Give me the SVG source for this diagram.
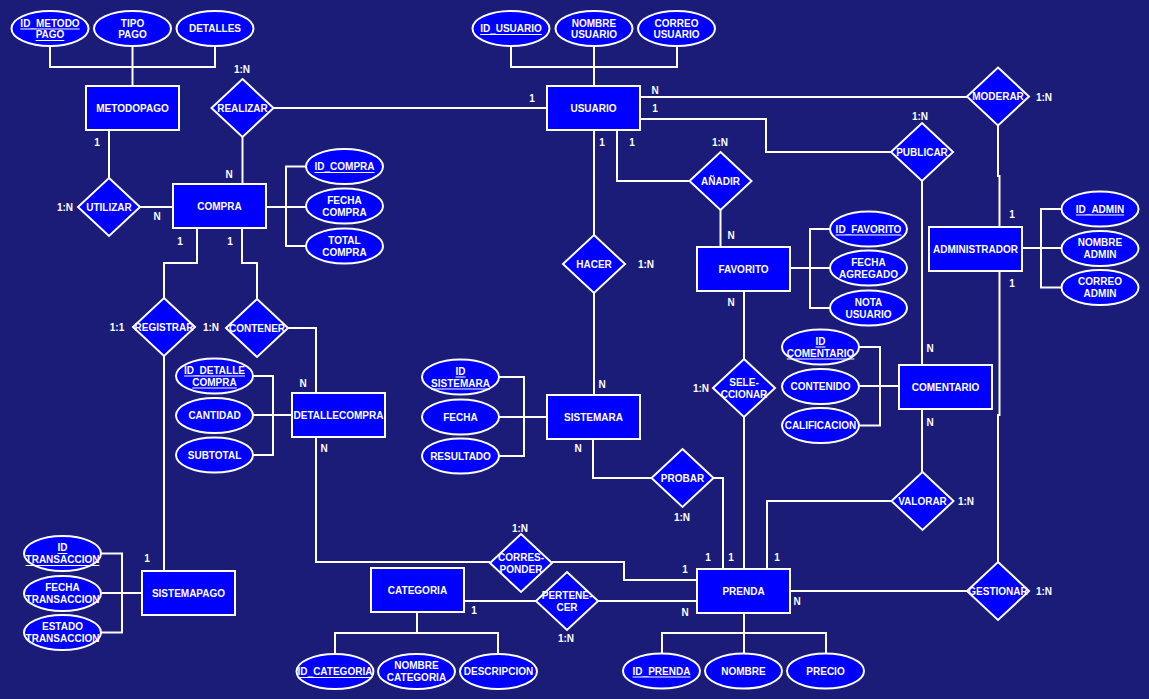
<svg xmlns="http://www.w3.org/2000/svg" width="1149" height="699" viewBox="0 0 1149 699">
<style>
  .bg{fill:#1b1b78}
  .ent{fill:#0000ff;stroke:#ffffff;stroke-width:2}
  .att{fill:#0000ff;stroke:#ffffff;stroke-width:2}
  .rel{fill:#0000ff;stroke:#ffffff;stroke-width:2}
  .con{fill:none;stroke:#ffffff;stroke-width:2}
  text{font-family:"Liberation Sans",Arial,sans-serif;font-weight:bold;font-size:10px;fill:#ffffff;text-anchor:middle;dominant-baseline:central}
  .key{text-decoration:underline}
</style>
<defs>
  <ellipse id="oval" rx="38.5" ry="17.5" class="att"/>
  <polygon id="rhomb" points="0,-29 31,0 0,29 -31,0" class="rel"/>
  <rect id="box" x="0" y="0" width="93" height="44" class="ent"/>
</defs>
<rect class="bg" x="0" y="0" width="1149" height="699"/>

<!-- connectors -->
<g id="connectors" class="con">
  <path d="M50 46V67H215V46M132.5 46V86"/>
  <path d="M109 130V178"/>
  <path d="M140 207H173"/>
  <path d="M242.5 137V184"/>
  <path d="M273 108H547"/>
  <path d="M266 207H306M306 166.5H286V246H306"/>
  <path d="M511 46V67H677V46M594 46V86"/>
  <path d="M640 97H967"/>
  <path d="M640 119H766V152H891"/>
  <path d="M594 130V235"/>
  <path d="M617 130V181H689"/>
  <path d="M720.5 210V247"/>
  <path d="M790 268H830M830 229H810V308H830"/>
  <path d="M744 291V359"/>
  <path d="M744 417V569"/>
  <path d="M594 293V395"/>
  <path d="M547 417H499M499 377H524V456H499"/>
  <path d="M593 439V478H652"/>
  <path d="M713 478H723V569"/>
  <path d="M998 126V176H999.5V227"/>
  <path d="M999.5 270V415H998V562"/>
  <path d="M1022 248H1062M1062 209H1041V287.5H1062"/>
  <path d="M922 181V365"/>
  <path d="M899 386H859M859 347H880V425.5H859"/>
  <path d="M922 408V472"/>
  <path d="M892 501H767V569"/>
  <path d="M967 591H790"/>
  <path d="M197 229V263H164V298"/>
  <path d="M242 229V263H257V299"/>
  <path d="M288 328H316V393"/>
  <path d="M292 415H253M253 376H273V455H253"/>
  <path d="M164 356V571"/>
  <path d="M142 593H101M101 553.5H122V632.5H101"/>
  <path d="M316 437V562H490"/>
  <path d="M552 562H624V580H697"/>
  <path d="M463 601H537"/>
  <path d="M598 601H697"/>
  <path d="M417 612V633M335 654V633H498V654"/>
  <path d="M744 612V653M662 653V633H826V653"/>
</g>

<!-- cardinalities -->
<g id="cardinalities">
  <text x="242" y="69">1:N</text>
  <text x="229" y="174">N</text>
  <text x="532" y="98">1</text>
  <text x="97" y="142">1</text>
  <text x="65" y="207">1:N</text>
  <text x="157" y="216">N</text>
  <text x="180" y="241">1</text>
  <text x="230" y="241">1</text>
  <text x="117" y="327">1:1</text>
  <text x="211" y="327">1:N</text>
  <text x="303" y="383">N</text>
  <text x="324" y="448">N</text>
  <text x="147" y="558">1</text>
  <text x="520" y="528">1:N</text>
  <text x="474" y="610">1</text>
  <text x="566" y="638">1:N</text>
  <text x="655" y="90">N</text>
  <text x="655" y="108">1</text>
  <text x="602" y="142">1</text>
  <text x="632" y="142">1</text>
  <text x="720" y="142">1:N</text>
  <text x="731" y="235">N</text>
  <text x="646" y="264">1:N</text>
  <text x="602" y="384">N</text>
  <text x="731" y="302">N</text>
  <text x="701" y="388">1:N</text>
  <text x="578" y="448">N</text>
  <text x="682" y="517">1:N</text>
  <text x="708" y="557">1</text>
  <text x="731" y="557">1</text>
  <text x="777" y="557">1</text>
  <text x="685" y="569">1</text>
  <text x="685" y="612">N</text>
  <text x="797" y="601">N</text>
  <text x="920" y="116">1:N</text>
  <text x="1044" y="97">1:N</text>
  <text x="1012" y="214">1</text>
  <text x="1012" y="283">1</text>
  <text x="930" y="348">N</text>
  <text x="930" y="422">N</text>
  <text x="966" y="501">1:N</text>
  <text x="1044" y="591">1:N</text>
</g>

<!-- entities -->
<g id="metodopago"><use href="#box" x="86" y="86"/><text x="132.5" y="108">METODOPAGO</text></g>
<g id="compra"><use href="#box" x="173" y="184"/><text x="219.5" y="206">COMPRA</text></g>
<g id="usuario"><use href="#box" x="547" y="86"/><text x="593.5" y="108">USUARIO</text></g>
<g id="favorito"><use href="#box" x="697" y="247"/><text x="743.5" y="269">FAVORITO</text></g>
<g id="administrador"><use href="#box" x="929" y="227"/><text x="975.5" y="249">ADMINISTRADOR</text></g>
<g id="comentario"><use href="#box" x="899" y="365"/><text x="945.5" y="387">COMENTARIO</text></g>
<g id="sistemara"><use href="#box" x="547" y="395"/><text x="593.5" y="417">SISTEMARA</text></g>
<g id="detallecompra"><use href="#box" x="292" y="393"/><text x="338.5" y="415">DETALLECOMPRA</text></g>
<g id="sistemapago"><use href="#box" x="142" y="571"/><text x="188.5" y="593">SISTEMAPAGO</text></g>
<g id="categoria"><use href="#box" x="371" y="568"/><text x="417.5" y="590">CATEGORIA</text></g>
<g id="prenda"><use href="#box" x="697" y="569"/><text x="743.5" y="591">PRENDA</text></g>

<!-- relationships -->
<g id="realizar"><use href="#rhomb" x="242.5" y="108"/><text x="242.5" y="108">REALIZAR</text></g>
<g id="utilizar"><use href="#rhomb" x="109" y="207"/><text x="109" y="207">UTILIZAR</text></g>
<g id="registrar"><use href="#rhomb" x="164" y="327"/><text x="164" y="327">REGISTRAR</text></g>
<g id="contener"><use href="#rhomb" x="257" y="328"/><text x="257" y="328">CONTENER</text></g>
<g id="hacer"><use href="#rhomb" x="594" y="264"/><text x="594" y="264">HACER</text></g>
<g id="anadir"><use href="#rhomb" x="720.5" y="181"/><text x="720.5" y="181">AÑADIR</text></g>
<g id="publicar"><use href="#rhomb" x="922" y="152"/><text x="922" y="152">PUBLICAR</text></g>
<g id="moderar"><use href="#rhomb" x="998" y="96.5"/><text x="998" y="96.5">MODERAR</text></g>
<g id="seleccionar"><use href="#rhomb" x="744" y="388"/><text x="744" y="382">SELE-</text><text x="744" y="394">CCIONAR</text></g>
<g id="probar"><use href="#rhomb" x="682.5" y="478"/><text x="682.5" y="478">PROBAR</text></g>
<g id="valorar"><use href="#rhomb" x="922.5" y="501"/><text x="922.5" y="501">VALORAR</text></g>
<g id="gestionar"><use href="#rhomb" x="998" y="591"/><text x="998" y="591">GESTIONAR</text></g>
<g id="corresponder"><use href="#rhomb" x="521" y="563"/><text x="521" y="557">CORRES-</text><text x="521" y="569">PONDER</text></g>
<g id="pertenecer"><use href="#rhomb" x="567" y="601"/><text x="567" y="595">PERTENE-</text><text x="567" y="607">CER</text></g>

<!-- attributes -->
<g id="att-id-metodo"><use href="#oval" x="50" y="28.5"/><text class="key" x="50" y="23">ID_METODO</text><text class="key" x="50" y="34.5">PAGO</text></g>
<g id="att-tipo-pago"><use href="#oval" x="132.5" y="28.5"/><text x="132.5" y="23">TIPO</text><text x="132.5" y="34.5">PAGO</text></g>
<g id="att-detalles"><use href="#oval" x="215" y="28.5"/><text x="215" y="28.5">DETALLES</text></g>
<g id="att-id-usuario"><use href="#oval" x="511" y="28.5"/><text class="key" x="511" y="28.5">ID_USUARIO</text></g>
<g id="att-nombre-usuario"><use href="#oval" x="594" y="28.5"/><text x="594" y="23">NOMBRE</text><text x="594" y="34.5">USUARIO</text></g>
<g id="att-correo-usuario"><use href="#oval" x="676.5" y="28.5"/><text x="676.5" y="23">CORREO</text><text x="676.5" y="34.5">USUARIO</text></g>
<g id="att-id-compra"><use href="#oval" x="344.5" y="166.5"/><text class="key" x="344.5" y="166.5">ID_COMPRA</text></g>
<g id="att-fecha-compra"><use href="#oval" x="344.5" y="206"/><text x="344.5" y="200.5">FECHA</text><text x="344.5" y="212">COMPRA</text></g>
<g id="att-total-compra"><use href="#oval" x="344.5" y="246"/><text x="344.5" y="240">TOTAL</text><text x="344.5" y="252">COMPRA</text></g>
<g id="att-id-favorito"><use href="#oval" x="868.5" y="229"/><text class="key" x="868.5" y="229">ID_FAVORITO</text></g>
<g id="att-fecha-agregado"><use href="#oval" x="868.5" y="268"/><text x="868.5" y="262">FECHA</text><text x="868.5" y="274">AGREGADO</text></g>
<g id="att-nota-usuario"><use href="#oval" x="868.5" y="308"/><text x="868.5" y="302">NOTA</text><text x="868.5" y="314">USUARIO</text></g>
<g id="att-id-admin"><use href="#oval" x="1100" y="209"/><text class="key" x="1100" y="209">ID_ADMIN</text></g>
<g id="att-nombre-admin"><use href="#oval" x="1100" y="248.5"/><text x="1100" y="242.5">NOMBRE</text><text x="1100" y="254.5">ADMIN</text></g>
<g id="att-correo-admin"><use href="#oval" x="1100" y="287.5"/><text x="1100" y="281.5">CORREO</text><text x="1100" y="293.5">ADMIN</text></g>
<g id="att-id-comentario"><use href="#oval" x="820.5" y="347"/><text class="key" x="820.5" y="341">ID</text><text class="key" x="820.5" y="353">COMENTARIO</text></g>
<g id="att-contenido"><use href="#oval" x="820.5" y="386.5"/><text x="820.5" y="386.5">CONTENIDO</text></g>
<g id="att-calificacion"><use href="#oval" x="820.5" y="425.5"/><text x="820.5" y="425.5">CALIFICACION</text></g>
<g id="att-id-detalle"><use href="#oval" x="214.5" y="376"/><text class="key" x="214.5" y="370">ID_DETALLE</text><text class="key" x="214.5" y="382">COMPRA</text></g>
<g id="att-cantidad"><use href="#oval" x="214.5" y="415.5"/><text x="214.5" y="415.5">CANTIDAD</text></g>
<g id="att-subtotal"><use href="#oval" x="214.5" y="455"/><text x="214.5" y="455">SUBTOTAL</text></g>
<g id="att-id-sistemara"><use href="#oval" x="460.5" y="377"/><text class="key" x="460.5" y="371">ID</text><text class="key" x="460.5" y="383">SISTEMARA</text></g>
<g id="att-fecha"><use href="#oval" x="460.5" y="417"/><text x="460.5" y="417">FECHA</text></g>
<g id="att-resultado"><use href="#oval" x="460.5" y="456"/><text x="460.5" y="456">RESULTADO</text></g>
<g id="att-id-transaccion"><use href="#oval" x="62.5" y="553.5"/><text class="key" x="62.5" y="547.5">ID</text><text class="key" x="62.5" y="559.5">TRANSACCION</text></g>
<g id="att-fecha-transaccion"><use href="#oval" x="62.5" y="593.5"/><text x="62.5" y="587.5">FECHA</text><text x="62.5" y="599.5">TRANSACCION</text></g>
<g id="att-estado-transaccion"><use href="#oval" x="62.5" y="632.5"/><text x="62.5" y="626.5">ESTADO</text><text x="62.5" y="638.5">TRANSACCION</text></g>
<g id="att-id-categoria"><use href="#oval" x="335" y="671.5"/><text class="key" x="335" y="671.5">ID_CATEGORIA</text></g>
<g id="att-nombre-categoria"><use href="#oval" x="416.5" y="671.5"/><text x="416.5" y="665.5">NOMBRE</text><text x="416.5" y="677.5">CATEGORIA</text></g>
<g id="att-descripcion"><use href="#oval" x="498.5" y="671.5"/><text x="498.5" y="671.5">DESCRIPCION</text></g>
<g id="att-id-prenda"><use href="#oval" x="661.5" y="671"/><text class="key" x="661.5" y="671">ID_PRENDA</text></g>
<g id="att-nombre"><use href="#oval" x="743.5" y="671"/><text x="743.5" y="671">NOMBRE</text></g>
<g id="att-precio"><use href="#oval" x="825.5" y="671"/><text x="825.5" y="671">PRECIO</text></g>
</svg>
